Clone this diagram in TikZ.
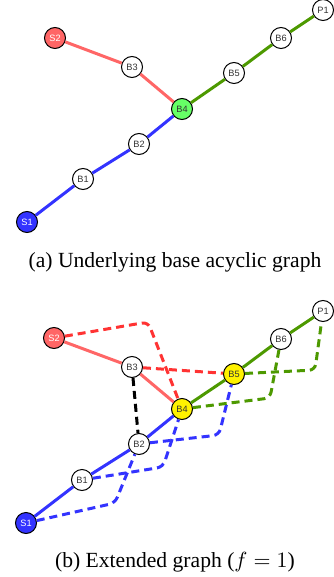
\documentclass[tikz,border=0pt]{standalone}
\usepackage{fontspec}
\setmainfont{Liberation Serif}
\newfontfamily\vtxfont{Liberation Sans}
\usetikzlibrary{calc}

\definecolor{redline}{HTML}{FF6666}
\definecolor{reddash}{HTML}{FF3333}
\definecolor{blueline}{HTML}{3333FF}
\definecolor{greenline}{HTML}{4D9900}
\definecolor{lightgreen}{HTML}{66FF66}

\tikzset{
  vtx/.style={circle, draw, line width=0.5pt, minimum size=10.5pt, inner sep=0pt,
    font=\vtxfont\fontsize{4.6}{5}\selectfont},
  baseedge/.style={line width=1.5pt},
  extraedge/.style={line width=1.5pt, dash pattern=on 4pt off 2.5pt, rounded corners=3pt},
  caption/.style={font=\fontsize{10.8}{13}\selectfont},
}

\begin{document}
\begin{tikzpicture}[x=0.5pt,y=-0.5pt]
\useasboundingbox (0,0) rectangle (333,577);

% (a) underlying graph
\foreach \n/\x/\y/\c/\t in {S1/27/222/blueline/white, S2/55/38/redline/white,
    B1/83/179/white/black!80, B2/139/144/white/black!80, B3/132/67/white/black!80,
    B4/182/109/lightgreen/black!80, B5/234/73/white/black!80,
    B6/281/38/white/black!80, P1/323/10/white/black!80} {
  \node[vtx, fill=\c, text=\t] (a\n) at (\x,\y) {\n};
}
\draw[baseedge, redline] (aS2) -- (aB3) -- (aB4);
\draw[baseedge, blueline] (aS1) -- (aB1) -- (aB2) -- (aB4);
\draw[baseedge, greenline] (aB4) -- (aB5) -- (aB6) -- (aP1);
\node[caption] (capa) at (175,262) {(a) Underlying base acyclic graph};

% (b) extended graph
\foreach \n/\x/\y/\c/\t in {S1/26/523/blueline/white, S2/54/338/redline/white,
    B1/82/480/white/black!80, B2/139/444/white/black!80, B3/132/367/white/black!80,
    B4/182/409/yellow/black!80, B5/234/374/yellow/black!80,
    B6/281/339/white/black!80, P1/323/311/white/black!80} {
  \node[vtx, fill=\c, text=\t] (b\n) at (\x,\y) {\n};
}
\draw[baseedge, redline] (bS2) -- (bB3) -- (bB4);
\draw[baseedge, blueline] (bS1) -- (bB1) -- (bB2) -- (bB4);
\draw[baseedge, greenline] (bB4) -- (bB5) -- (bB6) -- (bP1);
% extra links
\draw[extraedge, reddash] (bS2) -- (148,322) -- (bB4);
\draw[extraedge, reddash] (bB3) -- (bB5);
\draw[extraedge, black] (bB3) -- (bB2);
\draw[extraedge, blueline] (bS1) -- (115,503) -- (bB2);
\draw[extraedge, blueline] (bB1) -- (163,467) -- (bB4);
\draw[extraedge, blueline] (bB2) -- (219,435) -- (bB5);
\draw[extraedge, greenline] (bB4) -- (270,398) -- (bB6);
\draw[extraedge, greenline] (bB5) -- (315,370) -- (bP1);
\node[caption] (capb) at (175,562) {(b) Extended graph ($f=1$)};
\end{tikzpicture}
\end{document}
